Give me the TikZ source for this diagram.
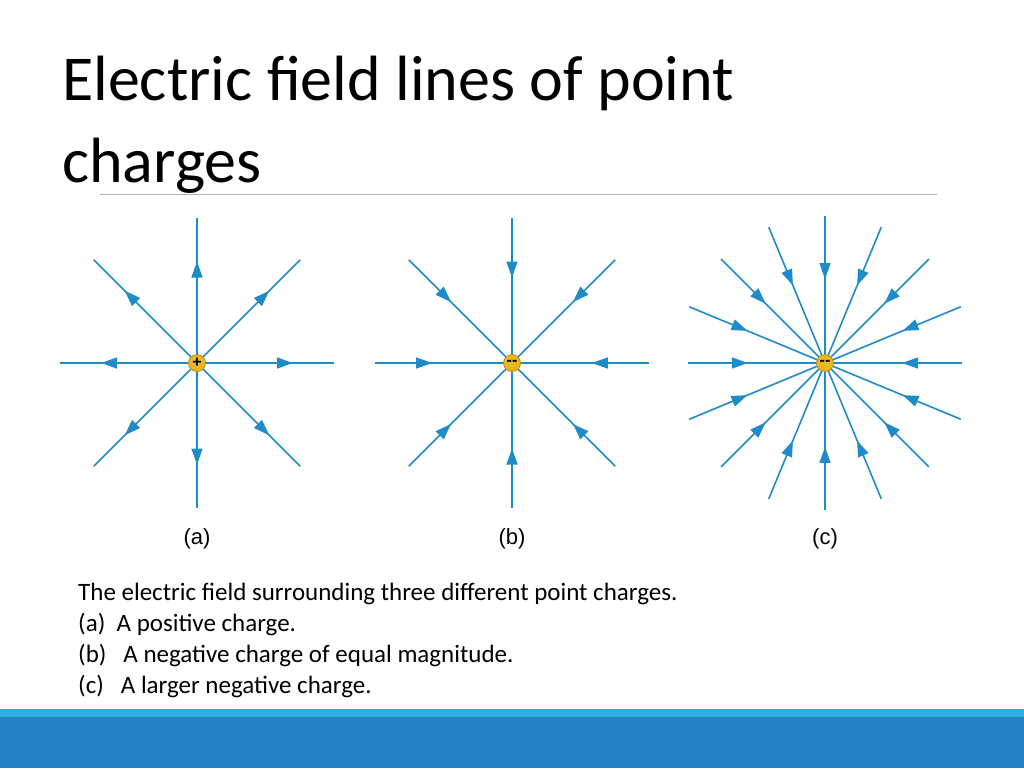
\documentclass[tikz,border=0pt]{standalone}
\usepackage{fontspec}
\setmainfont{Carlito}
\newfontfamily\arialf{Liberation Sans}
\usetikzlibrary{decorations.markings,arrows.meta}
\definecolor{fl}{HTML}{1F8BC8}
\definecolor{chg}{HTML}{E8B820}
\definecolor{chgb}{HTML}{C08A10}
\definecolor{barl}{HTML}{2BAEE2}
\definecolor{bard}{HTML}{2580C4}
\tikzset{
  fline/.style={draw=fl,line width=1.6pt},
  outarr/.style={fline,postaction={decorate},decoration={markings,mark=at position #1 with {\arrow{Triangle[length=16pt,width=11pt]}}}},
  inarr/.style={fline,postaction={decorate},decoration={markings,mark=at position #1 with {\arrow{Triangle[length=16pt,width=11pt,reversed]}}}},
  charge/.style={circle,fill=chg,draw=chgb,line width=0.8pt,minimum size=17pt,inner sep=0pt,font=\arialf\bfseries\fontsize{16}{16}\selectfont},
  lab/.style={font=\arialf\fontsize{22}{22}\selectfont,anchor=base},
  captxt/.style={font=\fontsize{25}{25}\selectfont,anchor=base west,inner sep=0pt}
}
\begin{document}
\begin{tikzpicture}[x=1pt,y=-1pt]
\useasboundingbox (0,0) rectangle (1024,768);
\node[anchor=base west,inner sep=0pt,font=\fontsize{64}{64}\selectfont] (t1) at (62,100) {Electric field lines of point};
\node[anchor=base west,inner sep=0pt,font=\fontsize{64}{64}\selectfont] (t2) at (62,182) {charges};
\draw[gray!60,line width=0.8pt] (100,194) -- (937,194);
% (a)
\coordinate (ca) at (197,363);
\foreach \a/\r in {0/137,45/146,90/145,135/146,180/137,225/146,270/145,315/146}{
  \path[outarr=0.7] (ca) -- ++(\a:\r);
}
\node[charge] (qa) at (ca) {+};
% (b)
\coordinate (cb) at (512,363);
\foreach \a/\r in {0/137,45/146,90/145,135/146,180/137,225/146,270/145,315/146}{
  \path[inarr=0.7] (cb) -- ++(\a:\r);
}
\node[charge] (qb) at (cb) {\raisebox{1pt}{--}};
% (c)
\coordinate (cc) at (825,363);
\foreach \i in {0,...,15}{
  \path[inarr=0.68] (cc) -- ++(\i*22.5:{\i==0||\i==8 ? 137 : 147});
}
\node[charge] (qc) at (cc) {\raisebox{1pt}{--}};
\node[lab] (la) at (197,544) {(a)};
\node[lab] (lb) at (512,544) {(b)};
\node[lab] (lc) at (825,544) {(c)};
\node[captxt] (c1) at (78,600) {The electric field surrounding three different point charges.};
\node[captxt] (c2) at (78,631) {(a)\ \ A positive charge.};
\node[captxt] (c3) at (78,662) {(b)\ \ \ A negative charge of equal magnitude.};
\node[captxt] (c4) at (78,693) {(c)\ \ \ A larger negative charge.};
\fill[barl] (0,709) rectangle (1024,717);
\fill[bard] (0,717) rectangle (1024,768);
\end{tikzpicture}
\end{document}
